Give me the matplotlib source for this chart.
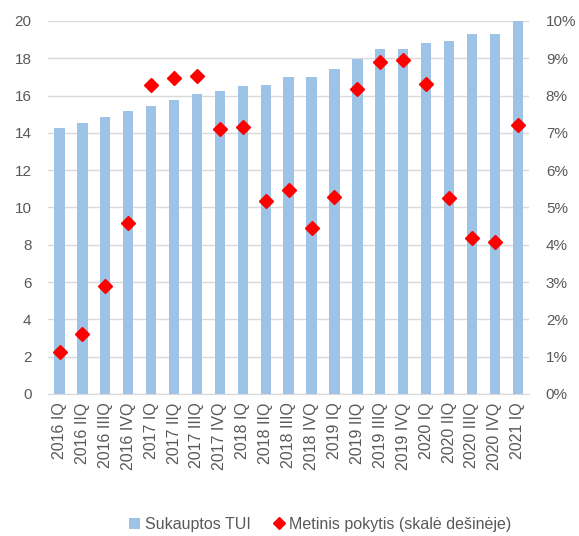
import matplotlib.pyplot as plt
from matplotlib.ticker import FuncFormatter

plt.rcParams['font.family'] = ['Liberation Sans', 'DejaVu Sans']

quarters = ['2016 IQ', '2016 IIQ', '2016 IIIQ', '2016 IVQ',
            '2017 IQ', '2017 IIQ', '2017 IIIQ', '2017 IVQ',
            '2018 IQ', '2018 IIQ', '2018 IIIQ', '2018 IVQ',
            '2019 IQ', '2019 IIQ', '2019 IIIQ', '2019 IVQ',
            '2020 IQ', '2020 IIQ', '2020 IIIQ', '2020 IVQ',
            '2021 IQ']
sukauptos = [14.25, 14.5, 14.83, 15.19, 15.42, 15.76, 16.08, 16.26,
             16.5, 16.58, 16.97, 16.97, 17.4, 17.95, 18.5, 18.5,
             18.84, 18.9, 19.29, 19.29, 20.0]
pokytis = [1.13, 1.6, 2.9, 4.59, 8.28, 8.47, 8.52, 7.09,
           7.15, 5.17, 5.47, 4.45, 5.28, 8.17, 8.91, 8.96,
           8.32, 5.26, 4.19, 4.07, 7.22]

txt = '#595959'
grid = '#d9d9d9'

fig = plt.figure(figsize=(5.79, 5.36), dpi=100)
ax = fig.add_axes([0.083, 0.265, 0.831, 0.696])
ax2 = ax.twinx()

x = range(len(quarters))
bars = ax.bar(x, sukauptos, width=0.45, color='#9dc3e6', zorder=2,
              label='Sukauptos TUI')
pts, = ax2.plot(x, pokytis, linestyle='none', marker='D', markersize=6.8,
                color='#ff0000', label='Metinis pokytis (skalė dešinėje)')

ax.set_xlim(-0.5, len(quarters) - 0.5)
ax.set_ylim(0, 20)
ax.set_yticks(range(0, 21, 2))
ax2.set_ylim(0, 10)
ax2.set_yticks(range(0, 11))
ax2.yaxis.set_major_formatter(FuncFormatter(lambda v, p: f'{v:.0f}%'))

ax.set_xticks(list(x))
ax.set_xticklabels(quarters, rotation=90)
ax.grid(axis='y', color=grid, linewidth=1, zorder=0)
ax.set_axisbelow(True)

for a in (ax, ax2):
    for s in a.spines.values():
        s.set_visible(False)
    a.tick_params(length=0, colors=txt, labelsize=11)
ax.spines['bottom'].set_visible(True)
ax.spines['bottom'].set_color(grid)
ax.tick_params(axis='y', pad=12)
ax.tick_params(axis='x', pad=6, labelsize=11.5)
ax2.tick_params(axis='y', pad=12)

# legend sits under the rotated quarter labels
fig.legend(handles=[bars, pts], loc='center',
           bbox_to_anchor=(0.553, 0.022), ncol=2, frameon=False,
           fontsize=11.5, labelcolor=txt, handlelength=0.7,
           handletextpad=0.3, columnspacing=1.4, markerscale=0.95,
           borderpad=0)

fig.savefig('out.png', dpi=100)
